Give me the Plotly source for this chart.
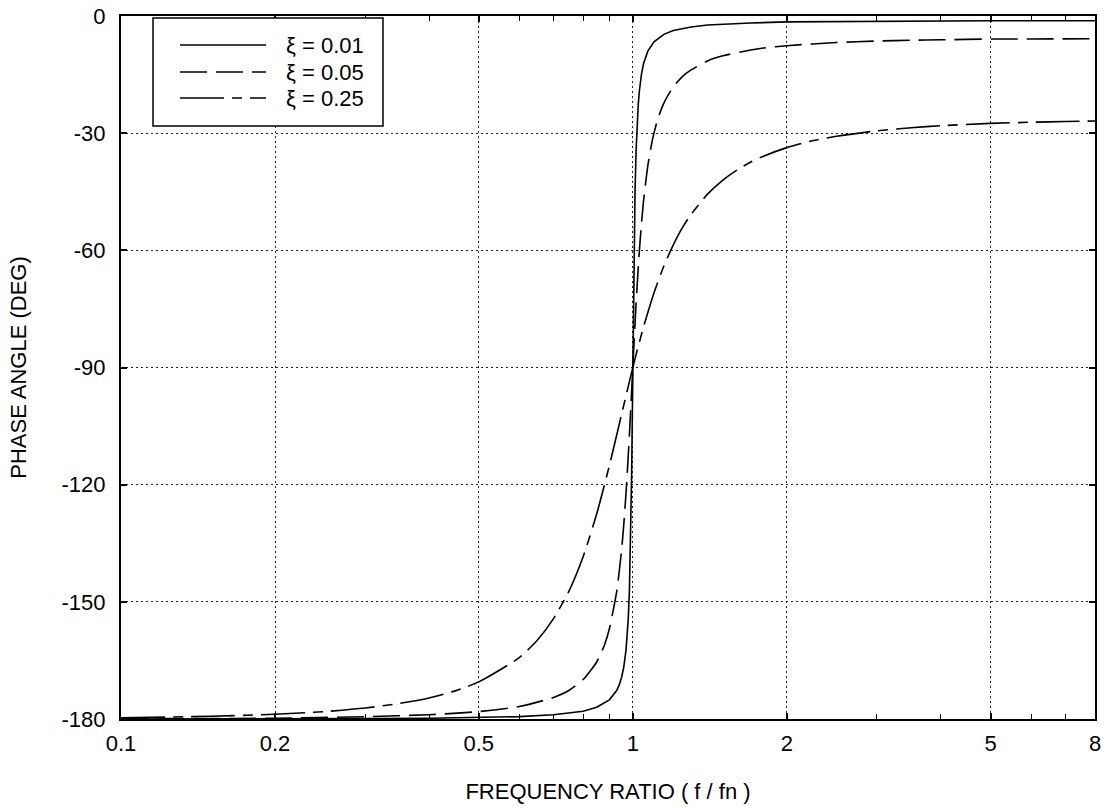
import plotly.graph_objects as go

# ---- data ----
r_001 = [0.1, 0.2, 0.3, 0.4, 0.5, 0.6, 0.7, 0.8, 0.85, 0.9, 0.93, 0.94, 0.95, 0.96, 0.97, 0.975,
         0.98, 0.985, 0.99, 0.9925, 0.995, 0.9975, 1.0, 1.0025, 1.005, 1.0075, 1.01, 1.015, 1.02,
         1.025, 1.03, 1.04, 1.05, 1.07, 1.1, 1.15, 1.2, 1.3, 1.4, 1.5, 1.7, 2.0, 2.5, 3.0, 5.0, 8.0]
phase_001 = [-180.0, -180.0, -179.9, -179.8, -179.6, -179.4, -178.9, -178.0, -177.0, -175.1, -172.7,
             -171.4, -169.5, -166.8, -162.3, -158.9, -154.1, -146.9, -135.4, -127.2, -116.7, -104.1,
             -90.0, -76.0, -63.6, -53.4, -45.4, -34.3, -27.3, -22.5, -19.2, -14.8, -12.1, -9.0,
             -6.6, -4.7, -3.7, -2.8, -2.3, -2.1, -1.8, -1.5, -1.4, -1.3, -1.2, -1.2]

r_005 = [0.1, 0.2, 0.3, 0.4, 0.5, 0.6, 0.7, 0.75, 0.8, 0.85, 0.88, 0.9, 0.93, 0.95, 0.96, 0.97,
         0.98, 0.985, 0.99, 0.995, 1.0, 1.005, 1.01, 1.015, 1.02, 1.03, 1.04, 1.05, 1.07, 1.09,
         1.1, 1.12, 1.15, 1.2, 1.25, 1.3, 1.4, 1.5, 1.7, 1.8, 2.0, 2.5, 3.0, 3.5, 4.0, 5.0, 6.0, 8.0]
phase_005 = [-179.9, -179.8, -179.4, -178.9, -178.1, -176.8, -174.5, -172.7, -169.9, -165.4, -161.1,
             -156.9, -147.4, -137.2, -130.4, -122.1, -112.4, -107.1, -101.5, -95.8, -90.0, -84.3,
             -78.9, -73.6, -68.8, -60.1, -53.0, -47.1, -38.3, -32.3, -30.0, -26.2, -22.3, -18.1,
             -15.5, -13.8, -11.5, -10.2, -8.7, -8.2, -7.6, -6.8, -6.4, -6.2, -6.1, -5.9, -5.9, -5.8]

r_025 = [0.1, 0.15, 0.2, 0.25, 0.3, 0.35, 0.4, 0.45, 0.5, 0.6, 0.65, 0.7, 0.75, 0.8, 0.85, 0.9,
         0.95, 0.97, 1.0, 1.02, 1.05, 1.1, 1.15, 1.2, 1.25, 1.3, 1.4, 1.5, 1.6, 1.7, 1.8, 2.0,
         2.25, 2.5, 3.0, 3.5, 4.0, 5.0, 6.0, 7.0, 8.0]
phase_025 = [-179.7, -179.3, -178.8, -178.1, -177.2, -176.0, -174.6, -172.8, -170.5, -164.3, -159.9,
             -154.3, -147.3, -138.4, -127.5, -115.1, -102.2, -97.2, -90.0, -85.6, -79.5, -70.9,
             -64.0, -58.6, -54.2, -50.8, -45.6, -42.0, -39.4, -37.4, -35.9, -33.7, -31.9, -30.8,
             -29.4, -28.6, -28.1, -27.5, -27.2, -27.0, -26.9]

series_names = ["\u03be = 0.01", "\u03be = 0.05", "\u03be = 0.25"]

x_tickvals = [0.1, 0.2, 0.5, 1, 2, 5, 8]
x_ticktext = ["0.1", "0.2", "0.5", "1", "2", "5", "8"]
x_minor = [0.3, 0.4, 0.6, 0.7, 0.8, 0.9, 3, 4, 6, 7]
y_tickvals = [0, -30, -60, -90, -120, -150, -180]
y_ticktext = ["0", "-30", "-60", "-90", "-120", "-150", "-180"]

# ---- styling ----
FONT = "Liberation Sans, Arial, Helvetica, sans-serif"
FS = 22
dashes = ["solid", "27px,9px", "44px,8px,10px,8px"]
shapes_ = ["linear", "spline", "spline"]

PAGE_W, PAGE_H = 1107, 808
# plot area in page pixels
L, R, T, B = 121, 1095, 16, 719
W, H = R - L, B - T

fig = go.Figure()
for xs, ys, name, dash, shp in zip([r_001, r_005, r_025], [phase_001, phase_005, phase_025],
                                   series_names, dashes, shapes_):
    fig.add_trace(go.Scatter(x=xs, y=ys, mode="lines", name=name, showlegend=False,
                             hoverinfo="skip",
                             line=dict(color="black", width=1.6, dash=dash, shape=shp,
                                       smoothing=0.6)))

def px(x):
    return (x - L) / W
def py(y):
    return (B - y) / H

# custom legend (box, line samples, labels) in paper coordinates
fig.add_shape(type="rect", xref="paper", yref="paper",
              x0=px(153), x1=px(383), y0=py(126), y1=py(18),
              line=dict(color="black", width=1.5), fillcolor="white", layer="above")
rows = [45, 72, 98]
for yrow, name, dash in zip(rows, series_names, dashes):
    fig.add_shape(type="line", xref="paper", yref="paper",
                  x0=px(180), x1=px(266), y0=py(yrow), y1=py(yrow),
                  line=dict(color="black", width=1.6, dash=dash), layer="above")
    fig.add_annotation(xref="paper", yref="paper", x=px(284), y=py(yrow),
                       xanchor="left", yanchor="middle", text=name, showarrow=False,
                       font=dict(family=FONT, size=FS, color="black"))

axis_common = dict(
    showline=True, linecolor="black", linewidth=2, mirror="ticks",
    ticks="inside", ticklen=6, tickwidth=1.5, tickcolor="black",
    showgrid=True, gridcolor="#222", gridwidth=1, griddash="2px,3px",
    zeroline=False, automargin=False, ticklabeloverflow="allow",
    tickfont=dict(family=FONT, size=FS, color="black"),
)

fig.update_layout(
    width=PAGE_W, height=PAGE_H, autosize=False,
    margin=dict(l=L, r=PAGE_W - R, t=T, b=PAGE_H - B, pad=0),
    paper_bgcolor="white", plot_bgcolor="white",
    font=dict(family=FONT, size=FS, color="black"),
    hovermode=False,
    xaxis=dict(type="log", range=[-1, 0.90309], tickvals=x_tickvals, ticktext=x_ticktext,
               minor=dict(tickvals=x_minor, ticks="inside", ticklen=5, tickwidth=1.2,
                          tickcolor="black", showgrid=False),
               ticklabelstandoff=4,
               title=dict(text="FREQUENCY RATIO ( f / fn )", standoff=28,
                          font=dict(family=FONT, size=FS, color="black")),
               **axis_common),
    yaxis=dict(range=[-180, 0], tickvals=y_tickvals, ticktext=y_ticktext,
               ticklabelstandoff=9,
               title=dict(text="PHASE ANGLE (DEG)", standoff=29,
                          font=dict(family=FONT, size=FS, color="black")),
               **axis_common),
)

# remove the default 8px page margin so the figure sits at the window origin
fig.write_html("out.html", config={"displayModeBar": False},
               post_script="document.body.style.margin='0px';")
